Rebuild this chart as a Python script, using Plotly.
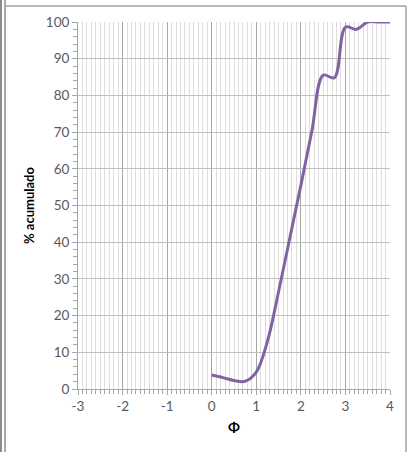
import plotly.graph_objects as go

# Cumulative grain-size curve (phi scale vs cumulative percent)
phi = [0.0, 0.25, 0.5, 0.75, 1.0, 1.25, 1.5, 1.75, 2.0, 2.25, 2.5, 2.75,
       3.0, 3.25, 3.5, 3.75, 4.0]
pct_acumulado = [3.8, 3.1, 2.3, 2.1, 4.6, 13.0, 26.5, 41.0, 55.5, 70.5, 85.5, 84.8,
                 98.6, 98.0, 100.0, 100.0, 100.0]

x_ticks = [-3, -2, -1, 0, 1, 2, 3, 4]
y_ticks = [0, 10, 20, 30, 40, 50, 60, 70, 80, 90, 100]

fig = go.Figure()
fig.add_trace(go.Scatter(
    x=phi, y=pct_acumulado, mode="lines",
    line=dict(color="#8064A2", width=3, shape="spline", smoothing=1.0),
    hoverinfo="x+y", showlegend=False,
))

font_family = "Lato, 'Liberation Sans', sans-serif"

fig.update_layout(
    width=409, height=452,
    margin=dict(l=78, r=19, t=22, b=63),
    paper_bgcolor="white", plot_bgcolor="white",
    font=dict(family=font_family, size=13.5, color="#595959"),
    xaxis=dict(
        range=[-3, 4], tickvals=x_ticks, ticktext=[str(v) for v in x_ticks],
        showgrid=True, gridcolor="#a6a6a6", gridwidth=1,
        showline=True, linecolor="#a6a6a6", linewidth=1,
        ticks="outside", ticklen=5, tickcolor="#a6a6a6",
        minor=dict(dtick=0.1, showgrid=True, gridcolor="#dddddd", gridwidth=1,
                   ticks="outside", ticklen=4, tickcolor="#a6a6a6"),
        zeroline=False,
        title=dict(text="<b>Φ</b>", font=dict(size=14, color="#000000"), standoff=8),
    ),
    yaxis=dict(
        range=[0, 100], tickvals=y_ticks, ticktext=[str(v) for v in y_ticks],
        showgrid=True, gridcolor="#bfbfbf", gridwidth=1,
        showline=True, linecolor="#a6a6a6", linewidth=1,
        ticks="outside", ticklen=5, tickcolor="#a6a6a6",
        minor=dict(dtick=2, showgrid=False, ticks="outside", ticklen=4,
                   tickcolor="#a6a6a6"),
        zeroline=False,
        title=dict(text="<b>% acumulado</b>", font=dict(size=13, color="#000000"),
                   standoff=8),
    ),
)

# Frame lines of the chart object, positioned in pixels
W, H = 409, 452
pw, ph = W - 78 - 19, H - 22 - 63


def px_x(x):
    return (x - 78) / pw


def px_y(y):
    return (H - 63 - y) / ph


frame = [
    (1, 0, 1, H, "#8c8c8c", 2),
    (5, 0, 5, H, "#8c8c8c", 1.5),
    (5, 6, 406, 6, "#a0a0a0", 1.5),
    (406, 6, 406, H, "#a0a0a0", 1.5),
]
for x0, y0, x1, y1, c, w in frame:
    fig.add_shape(type="line", xref="paper", yref="paper",
                  x0=px_x(x0), x1=px_x(x1), y0=px_y(y0), y1=px_y(y1),
                  line=dict(color=c, width=w), layer="above")

fig.write_html("out.html")
